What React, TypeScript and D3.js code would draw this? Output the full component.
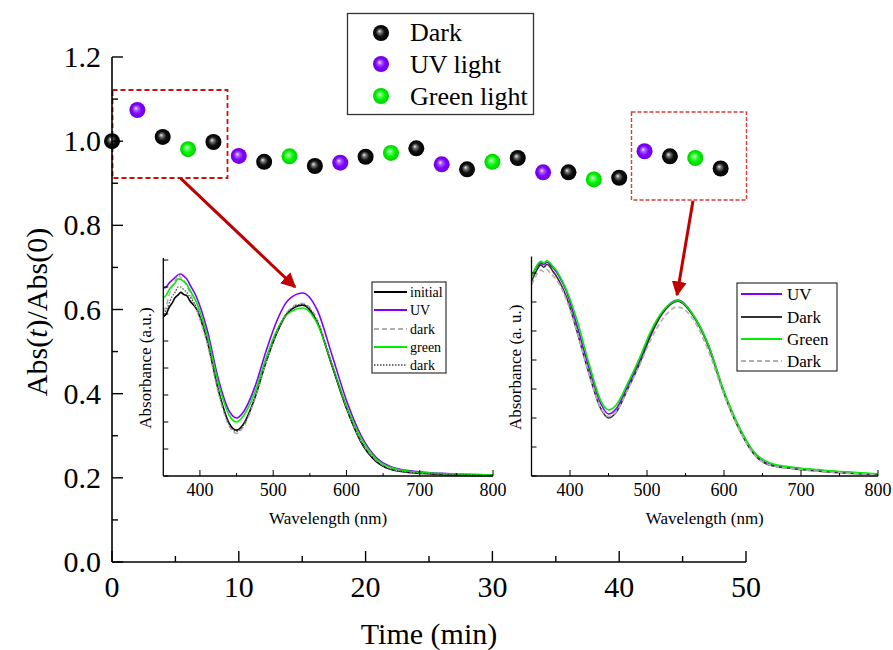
import React from "react";
import * as d3 from "d3";

// ---------- main series ----------
const times = [0, 2, 4, 6, 8, 10, 12, 14, 16, 18, 20, 22, 24, 26, 28, 30, 32, 34, 36, 38, 40, 42, 44, 46, 48];
const ratios = [1.0, 1.074, 1.01, 0.981, 0.998, 0.965, 0.951, 0.964, 0.941, 0.949, 0.963, 0.972, 0.983, 0.945, 0.933, 0.951, 0.96, 0.926, 0.926, 0.909, 0.913, 0.976, 0.964, 0.96, 0.935];
const conditions = ["Dark", "UV", "Dark", "Green", "Dark", "UV", "Dark", "Green", "Dark", "UV", "Dark", "Green", "Dark", "UV", "Dark", "Green", "Dark", "UV", "Dark", "Green", "Dark", "UV", "Dark", "Green", "Dark"];
const legendLabels = ["Dark", "UV light", "Green light"];
const legendKeys = ["Dark", "UV", "Green"];
const xTicks = [0, 10, 20, 30, 40, 50];
const yTicks = [0.0, 0.2, 0.4, 0.6, 0.8, 1.0, 1.2];

// ---------- inset spectra ----------
const wavelengths = [350, 354, 358, 362, 366, 370, 374, 378, 382, 386, 395, 410, 425, 440, 450, 460, 475, 490, 505, 520, 540, 560, 580, 600, 620, 640, 660, 690, 730, 800];
// left inset
const leftInitial = [0.59, 0.6, 0.625, 0.64, 0.66, 0.67, 0.68, 0.672, 0.668, 0.65, 0.62, 0.5, 0.32, 0.195, 0.17, 0.195, 0.29, 0.42, 0.53, 0.605, 0.633, 0.57, 0.41, 0.25, 0.125, 0.055, 0.025, 0.012, 0.006, 0.002];
const leftUV = [0.696, 0.7, 0.715, 0.725, 0.735, 0.745, 0.748, 0.74, 0.73, 0.71, 0.665, 0.54, 0.36, 0.24, 0.215, 0.24, 0.33, 0.46, 0.575, 0.65, 0.678, 0.615, 0.45, 0.28, 0.15, 0.07, 0.035, 0.018, 0.01, 0.004];
const leftDark1 = [0.61, 0.63, 0.67, 0.7, 0.72, 0.745, 0.735, 0.725, 0.705, 0.68, 0.62, 0.49, 0.31, 0.185, 0.158, 0.185, 0.285, 0.42, 0.535, 0.61, 0.64, 0.58, 0.42, 0.255, 0.13, 0.06, 0.028, 0.014, 0.008, 0.003];
const leftGreen = [0.66, 0.67, 0.69, 0.705, 0.715, 0.73, 0.728, 0.72, 0.71, 0.69, 0.645, 0.52, 0.345, 0.225, 0.2, 0.225, 0.31, 0.435, 0.54, 0.6, 0.622, 0.565, 0.415, 0.26, 0.14, 0.065, 0.032, 0.016, 0.009, 0.004];
const leftDark2 = [0.6, 0.615, 0.64, 0.665, 0.68, 0.7, 0.7, 0.69, 0.68, 0.665, 0.625, 0.5, 0.32, 0.19, 0.165, 0.19, 0.29, 0.42, 0.532, 0.607, 0.636, 0.575, 0.415, 0.252, 0.128, 0.057, 0.026, 0.013, 0.007, 0.002];
// right inset
const rightUV = [0.69, 0.71, 0.725, 0.735, 0.73, 0.738, 0.73, 0.718, 0.705, 0.688, 0.64, 0.51, 0.37, 0.25, 0.214, 0.232, 0.31, 0.395, 0.49, 0.565, 0.607, 0.555, 0.45, 0.29, 0.165, 0.075, 0.04, 0.028, 0.018, 0.006];
const rightDark1 = [0.67, 0.695, 0.715, 0.728, 0.72, 0.73, 0.722, 0.705, 0.69, 0.672, 0.62, 0.49, 0.35, 0.232, 0.2, 0.22, 0.3, 0.385, 0.485, 0.56, 0.603, 0.552, 0.445, 0.285, 0.16, 0.072, 0.037, 0.025, 0.015, 0.005];
const rightGreen = [0.69, 0.712, 0.73, 0.74, 0.735, 0.742, 0.735, 0.722, 0.71, 0.693, 0.645, 0.53, 0.385, 0.26, 0.228, 0.245, 0.32, 0.405, 0.5, 0.567, 0.605, 0.556, 0.45, 0.292, 0.168, 0.08, 0.045, 0.03, 0.02, 0.008];
const rightDark2 = [0.66, 0.68, 0.7, 0.71, 0.705, 0.712, 0.7, 0.69, 0.678, 0.662, 0.61, 0.49, 0.35, 0.235, 0.205, 0.222, 0.298, 0.38, 0.47, 0.54, 0.583, 0.54, 0.43, 0.28, 0.158, 0.072, 0.038, 0.025, 0.015, 0.005];
const insetXTicks = [400, 500, 600, 700, 800];
const insetXMinor = [450, 550, 650, 750];

const leftSeries = [
  { name: "initial", values: leftInitial, color: "#000000", dash: "", width: 1.6 },
  { name: "UV", values: leftUV, color: "#8000ff", dash: "", width: 1.6 },
  { name: "dark", values: leftDark1, color: "#b0b0b0", dash: "5,3", width: 1.6 },
  { name: "green", values: leftGreen, color: "#00ee00", dash: "", width: 1.6 },
  { name: "dark", values: leftDark2, color: "#444444", dash: "1.5,1.5", width: 1.2 },
];
const rightSeries = [
  { name: "UV", values: rightUV, color: "#8000ff", dash: "", width: 1.6 },
  { name: "Dark", values: rightDark1, color: "#333333", dash: "", width: 1.6 },
  { name: "Green", values: rightGreen, color: "#00ee00", dash: "", width: 1.6 },
  { name: "Dark", values: rightDark2, color: "#b0b0b0", dash: "5,3", width: 1.6 },
];

const FONT = "'Liberation Serif', 'Times New Roman', serif";
const gradId: Record<string, string> = { Dark: "gDark", UV: "gUV", Green: "gGreen" };

function Inset(props: {
  x0: number; x1: number; yTop: number; yBottom: number; yMax: number;
  series: typeof leftSeries; yLabel: string; legend: { x: number; y: number; w: number; h: number; lineX0: number; lineX1: number; textX: number; rowY: number[]; fs: number };
  yLabelX: number;
}) {
  const { x0, x1, yTop, yBottom, yMax, series, yLabel, legend, yLabelX } = props;
  const x = d3.scaleLinear().domain([350, 800]).range([x0, x1]);
  const y = d3.scaleLinear().domain([0, yMax]).range([yBottom, yTop]);
  const line = d3.line<[number, number]>().x((d) => x(d[0])).y((d) => y(d[1])).curve(d3.curveMonotoneX);
  const yTickVals = d3.range(0, yMax + 0.0001, 0.1);
  return (
    <g>
      {series.map((s, i) => (
        <path key={i} d={line(wavelengths.map((w, j) => [w, s.values[j]] as [number, number])) || ""}
          fill="none" stroke={s.color} strokeWidth={s.width} strokeDasharray={s.dash || undefined} />
      ))}
      <line x1={x0} x2={x0} y1={yTop - 2} y2={yBottom} stroke="#000" strokeWidth={1.3} />
      <line x1={x0} x2={x1} y1={yBottom} y2={yBottom} stroke="#000" strokeWidth={1.3} />
      {yTickVals.map((v, i) => (
        <line key={i} x1={x0} x2={x0 + 5} y1={y(v)} y2={y(v)} stroke="#000" strokeWidth={1} />
      ))}
      {insetXTicks.map((v) => (
        <g key={v}>
          <line x1={x(v)} x2={x(v)} y1={yBottom} y2={yBottom - 6} stroke="#000" strokeWidth={1} />
          <text x={x(v)} y={yBottom + 20} textAnchor="middle" fontSize={18} fontFamily={FONT}>{v}</text>
        </g>
      ))}
      {insetXMinor.map((v) => (
        <line key={v} x1={x(v)} x2={x(v)} y1={yBottom} y2={yBottom - 3} stroke="#000" strokeWidth={1} />
      ))}
      <text x={(x0 + x1) / 2} y={yBottom + 48} textAnchor="middle" fontSize={17} fontFamily={FONT}>Wavelength (nm)</text>
      <text transform={`translate(${yLabelX},${(yTop + yBottom) / 2}) rotate(-90)`} textAnchor="middle" fontSize={17} fontFamily={FONT}>{yLabel}</text>
      <rect x={legend.x} y={legend.y} width={legend.w} height={legend.h} fill="#fff" stroke="#333" strokeWidth={1.2} />
      {series.map((s, i) => (
        <g key={i}>
          <line x1={legend.lineX0} x2={legend.lineX1} y1={legend.rowY[i]} y2={legend.rowY[i]} stroke={s.color} strokeWidth={s.width + 0.4} strokeDasharray={s.dash || undefined} />
          <text x={legend.textX} y={legend.rowY[i] + legend.fs * 0.33} fontSize={legend.fs} fontFamily={FONT}>{s.name}</text>
        </g>
      ))}
    </g>
  );
}

function Sphere({ cx, cy, r, kind }: { cx: number; cy: number; r: number; kind: string }) {
  return <circle cx={cx} cy={cy} r={r} fill={`url(#${gradId[kind]})`} />;
}

export default function App() {
  const W = 893, H = 650;
  const xs = d3.scaleLinear().domain([0, 50]).range([112, 746]);
  const ys = d3.scaleLinear().domain([0, 1.2]).range([562, 57]);
  const yMinor = d3.range(0.1, 1.2, 0.2);
  const xMinor = [5, 15, 25, 35, 45];

  return (
    <svg width={W} height={H} style={{ position: "absolute", left: 0, top: 0, background: "#fff" }} fontFamily={FONT}>
      <defs>
        <radialGradient id="gDark" cx="0.5" cy="0.5" r="0.5" fx="0.4" fy="0.38">
          <stop offset="0%" stopColor="#f2f2f2" />
          <stop offset="22%" stopColor="#777" />
          <stop offset="55%" stopColor="#111" />
          <stop offset="100%" stopColor="#000" />
        </radialGradient>
        <radialGradient id="gUV" cx="0.5" cy="0.5" r="0.5" fx="0.4" fy="0.38">
          <stop offset="0%" stopColor="#f4e8ff" />
          <stop offset="25%" stopColor="#a860ff" />
          <stop offset="60%" stopColor="#8000ff" />
          <stop offset="100%" stopColor="#6e00e0" />
        </radialGradient>
        <radialGradient id="gGreen" cx="0.5" cy="0.5" r="0.5" fx="0.4" fy="0.38">
          <stop offset="0%" stopColor="#eaffea" />
          <stop offset="25%" stopColor="#60ff60" />
          <stop offset="60%" stopColor="#00f000" />
          <stop offset="100%" stopColor="#00d000" />
        </radialGradient>
        <marker id="arrow" viewBox="0 0 10 10" refX="9" refY="5" markerWidth="5" markerHeight="5" orient="auto" markerUnits="strokeWidth">
          <path d="M0,0 L10,5 L0,10 z" fill="#c00000" />
        </marker>
      </defs>

      {/* dashed boxes */}
      <rect x={112.5} y={90} width={115} height={88} fill="none" stroke="#cc1010" strokeWidth={1.8} strokeDasharray="5,3" />
      <rect x={631.5} y={112} width={115} height={88} fill="none" stroke="#dd3a3a" strokeWidth={1.4} strokeDasharray="4,2" />

      {/* insets */}
      <Inset x0={163.3} x1={493} yTop={260} yBottom={476} yMax={0.8} series={leftSeries} yLabel="Absorbance (a.u.)" yLabelX={151}
        legend={{ x: 372, y: 282, w: 74, h: 91, lineX0: 374, lineX1: 407, textX: 410, rowY: [292, 310, 329, 347, 365], fs: 14 }} />
      <Inset x0={531.5} x1={878} yTop={258.5} yBottom={476} yMax={0.75} series={rightSeries} yLabel="Absorbance (a. u.)" yLabelX={521}
        legend={{ x: 737, y: 283, w: 100, h: 88, lineX0: 741, lineX1: 782, textX: 787, rowY: [294, 317, 339, 361], fs: 17 }} />

      {/* arrows */}
      <line x1={180.7} y1={178.3} x2={295} y2={287} stroke="#c00000" strokeWidth={3} markerEnd="url(#arrow)" />
      <line x1={693} y1={200.7} x2={677} y2={295} stroke="#c00000" strokeWidth={3} markerEnd="url(#arrow)" />

      {/* main points */}
      {times.map((t, i) => (
        <Sphere key={i} cx={xs(t)} cy={ys(ratios[i])} r={8} kind={conditions[i]} />
      ))}

      {/* main axes */}
      <line x1={112} x2={112} y1={57} y2={562} stroke="#000" strokeWidth={1.6} />
      <line x1={112} x2={746} y1={562} y2={562} stroke="#000" strokeWidth={1.6} />
      {yTicks.map((v) => (
        <g key={v}>
          <line x1={112} x2={123} y1={ys(v)} y2={ys(v)} stroke="#000" strokeWidth={1.4} />
          <text x={101} y={ys(v) + 10} textAnchor="end" fontSize={30}>{v.toFixed(1)}</text>
        </g>
      ))}
      {yMinor.map((v, i) => (
        <line key={i} x1={112} x2={118} y1={ys(v)} y2={ys(v)} stroke="#000" strokeWidth={1.4} />
      ))}
      {xTicks.map((v) => (
        <g key={v}>
          <line x1={xs(v)} x2={xs(v)} y1={562} y2={551} stroke="#000" strokeWidth={1.4} />
          <text x={xs(v)} y={597} textAnchor="middle" fontSize={30}>{v}</text>
        </g>
      ))}
      {xMinor.map((v) => (
        <line key={v} x1={xs(v)} x2={xs(v)} y1={562} y2={556} stroke="#000" strokeWidth={1.4} />
      ))}
      <text x={429} y={644} textAnchor="middle" fontSize={30}>Time (min)</text>
      <text transform="translate(47,312) rotate(-90)" textAnchor="middle" fontSize={30}>
        Abs(<tspan fontStyle="italic">t</tspan>)/Abs(0)
      </text>

      {/* main legend */}
      <rect x={347.5} y={13.5} width={186} height={101} fill="#fff" stroke="#333" strokeWidth={1.3} />
      {legendKeys.map((k, i) => (
        <g key={k}>
          <Sphere cx={381} cy={[33, 64, 96][i]} r={8} kind={k} />
          <text x={410} y={[41, 73, 105][i]} fontSize={26}>{legendLabels[i]}</text>
        </g>
      ))}
    </svg>
  );
}
